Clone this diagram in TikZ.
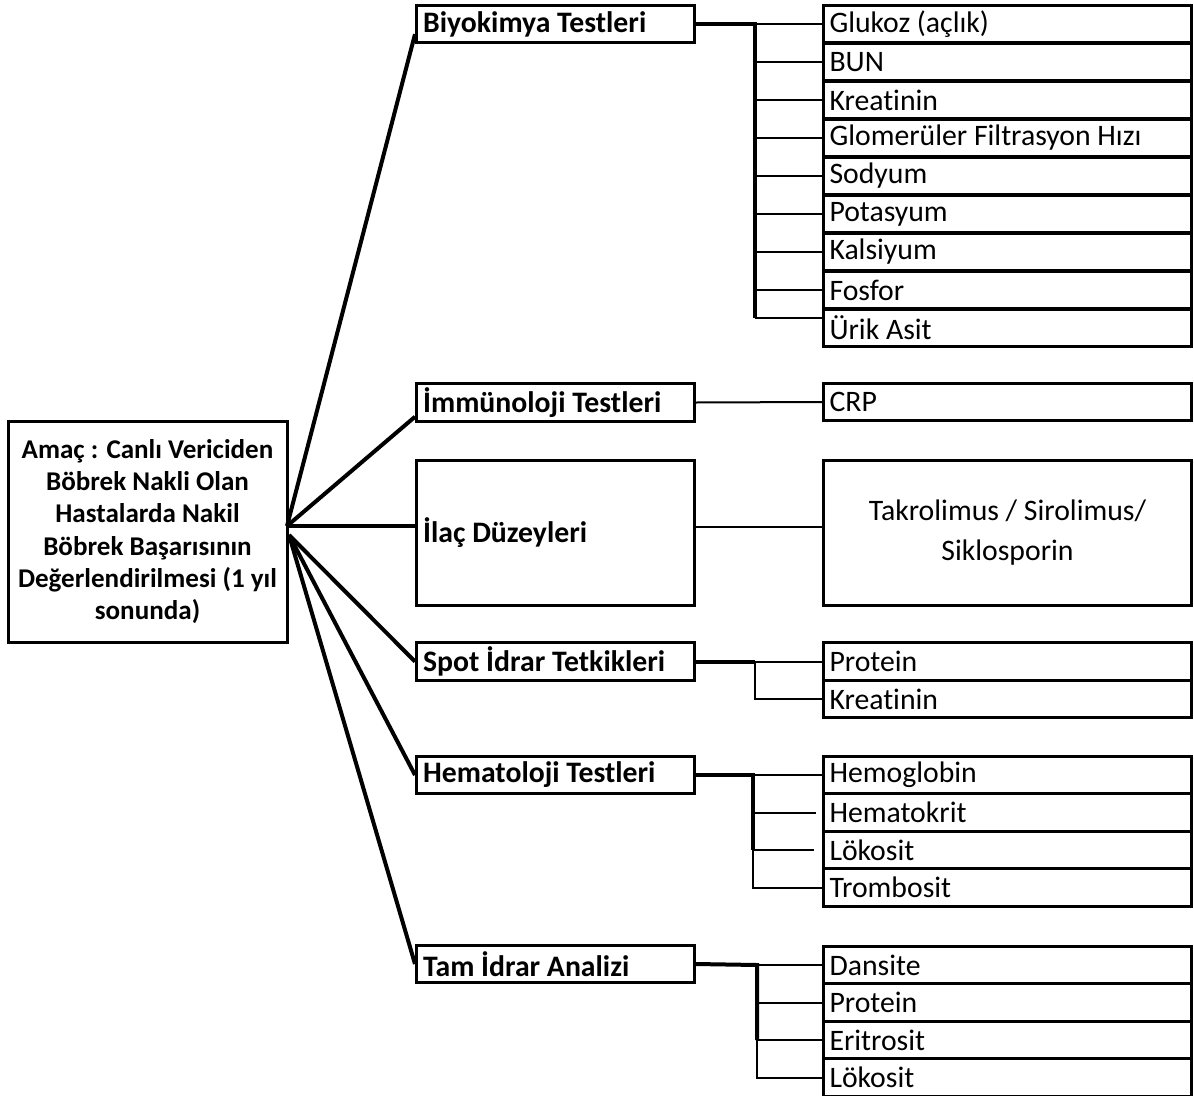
\documentclass[tikz,border=0pt]{standalone}
\usepackage{fontspec}
\setmainfont{Carlito}[Ligatures=NoCommon]
\usetikzlibrary{calc}
\tikzset{
  boxline/.style={draw, line width=2.25pt},
  rootbox/.style={boxline, minimum width=209.25pt, minimum height=165.75pt, text width=204pt, inner xsep=2.6pt, align=flush center, font=\bfseries\fontsize{20.3}{24.2}\selectfont},
  hdr/.style={boxline, minimum height=28.3pt, text width=198.5pt, inner xsep=5pt, inner ysep=0pt, align=flush left, anchor=west, font=\bfseries\fontsize{22.3}{27}\selectfont},
  bighdr/.style={hdr, minimum height=108.75pt},
  leaf/.style={boxline, minimum height=28.3pt, text width=267pt, inner xsep=4.5pt, inner ysep=0pt, align=flush left, anchor=west, font=\fontsize{22.3}{27}\selectfont},
  bigleaf/.style={leaf, minimum height=108.75pt, align=flush center, font=\fontsize{22.3}{30}\selectfont},
  mainline/.style={line width=3pt},
  trunk/.style={line width=3pt},
  twig/.style={line width=1.5pt}
}
\begin{document}
\begin{tikzpicture}[x=0.75pt,y=-0.75pt]
\useasboundingbox (0,0) rectangle (1194,1095);
\fill[white] (0,0) rectangle (1194,1095);

% root
\node[rootbox] (root) at (147.5,531.5) {Amaç : Canlı Vericiden\\Böbrek Nakli Olan\\Hastalarda Nakil\\Böbrek Başarısının\\Değerlendirilmesi (1 yıl\\sonunda)};
\coordinate (r1) at (287,526);
\coordinate (r2) at (289,535);

% headers
\node[hdr] (biyo) at (415,24) {Biyokimya Testleri};
\node[hdr] (imm) at (415,402.5) {İmmünoloji Testleri};
\node[bighdr] (ilac) at (415,532.5) {İlaç Düzeyleri};
\node[hdr] (spot) at (415,661.5) {Spot İdrar Tetkikleri};
\node[hdr] (hema) at (415,775) {Hematoloji Testleri};
\node[hdr] (tam) at (415,964) {Tam İdrar Analizi};

% Biyokimya leaves
\node[leaf] (b1) at (822,24) {Glukoz (açlık)};
\node[leaf] (b2) at (822,62) {BUN};
\node[leaf] (b3) at (822,100) {Kreatinin};
\node[leaf] (b4) at (822,138) {Glomerüler Filtrasyon Hızı};
\node[leaf] (b5) at (822,176) {Sodyum};
\node[leaf] (b6) at (822,214) {Potasyum};
\node[leaf] (b7) at (822,252) {Kalsiyum};
\node[leaf] (b8) at (822,290) {Fosfor};
\node[leaf] (b9) at (822,328) {Ürik Asit};

% Immunoloji / Ilac leaves
\node[leaf] (crp) at (822,402) {CRP};
\node[bigleaf] (tak) at (822,532.5) {Takrolimus / Sirolimus/\\Siklosporin};

% Spot leaves
\node[leaf] (s1) at (822,661.5) {Protein};
\node[leaf] (s2) at (822,699) {Kreatinin};

% Hematoloji leaves
\node[leaf] (h1) at (822,775) {Hemoglobin};
\node[leaf] (h2) at (822,812.5) {Hematokrit};
\node[leaf] (h3) at (822,850) {Lökosit};
\node[leaf] (h4) at (822,887.5) {Trombosit};

% Tam idrar leaves
\node[leaf] (t1) at (822,965) {Dansite};
\node[leaf] (t2) at (822,1002.5) {Protein};
\node[leaf] (t3) at (822,1040) {Eritrosit};
\node[leaf] (t4) at (822,1077.5) {Lökosit};

% root connectors
\draw[mainline] (r1) -- ($(biyo.south west)!0.25!(biyo.north west)$);
\draw[mainline] (r1) -- ($(imm.south west)!0.15!(imm.north west)$);
\draw[mainline] (r1) -- (ilac.west |- r1);
\draw[mainline] (r2) -- (spot.west);
\draw[mainline] (r2) -- (hema.west);
\draw[mainline] (r2) -- (tam.west);

% Biyokimya branches
\coordinate (bj) at (755,24);
\draw[trunk] (biyo.east) -- (bj) -- (755,318);
\draw[twig] (bj) -- (b1.west);
\foreach \n in {2,...,8} {\draw[twig] (bj |- b\n.west) -- (b\n.west);}
\draw[twig] (755,318) -- ($(b9.west)+(0,-10)$);

% Immunoloji, Ilac
\draw[twig] (imm.east) -- (crp.west);
\draw[twig] (ilac.east |- 0,527) -- (tak.west |- 0,527);

% Spot
\coordinate (sj) at (755,661.5);
\draw[trunk] (spot.east) -- (sj);
\draw[twig] (sj) -- (s1.west);
\draw[twig] (sj) -- (sj |- s2.west) -- (s2.west);

% Hematoloji
\coordinate (hj) at (753,775);
\draw[trunk] (hema.east) -- (hj) -- (753,850);
\draw[twig] (753,850) -- (hj |- h4.west) -- (h4.west);
\draw[twig] (hj) -- (h1.west);
\draw[twig] (hj |- h2.west) -- ($(h2.west)+(-6,0)$);
\draw[twig] (hj |- h3.west) -- ($(h3.west)+(-8,0)$);

% Tam idrar
\coordinate (tj) at (757,965);
\draw[trunk] (tam.east) -- (tj) -- (757,1040);
\draw[twig] (757,1040) -- (tj |- t4.west) -- (t4.west);
\draw[twig] (tj) -- (t1.west);
\draw[twig] (tj |- t2.west) -- (t2.west);
\draw[twig] (tj |- t3.west) -- (t3.west);
\end{tikzpicture}
\end{document}
